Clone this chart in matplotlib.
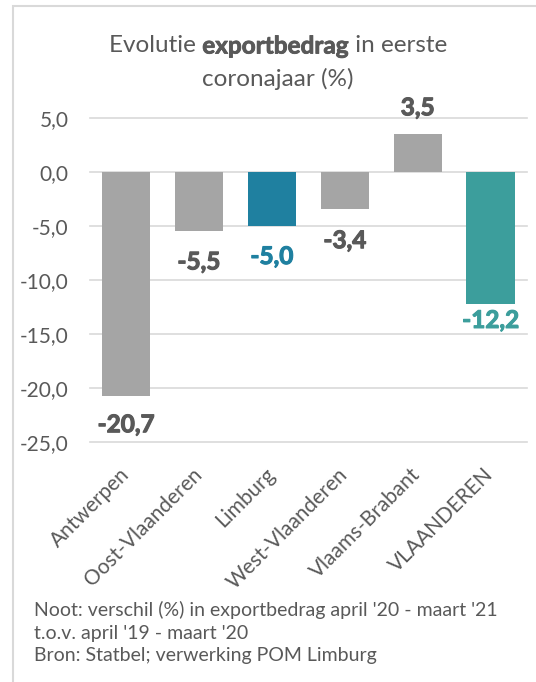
import matplotlib
matplotlib.use("Agg")
import matplotlib.pyplot as plt
import matplotlib.transforms as mtransforms
import matplotlib.patheffects as pe
from matplotlib import font_manager
from matplotlib.patches import Rectangle

# data
regions = ["Antwerpen", "Oost-Vlaanderen", "Limburg", "West-Vlaanderen",
           "Vlaams-Brabant", "VLAANDEREN"]
values = [-20.7, -5.5, -5.0, -3.4, 3.5, -12.2]
bar_colors = ["#a5a5a5", "#a5a5a5", "#1f80a0", "#a5a5a5", "#a5a5a5", "#3c9e9c"]
label_colors = ["#595959", "#595959", "#1f80a0", "#595959", "#595959", "#3c9e9c"]
label_offsets = [-21, -22, -22, -23, 19, -12]  # points, as in the original
y_ticks = [5, 0, -5, -10, -15, -20, -25]

title_parts = ["Evolutie ", "exportbedrag", " in eerste"]
title_line2 = "coronajaar (%)"
note_lines = [
    "Noot: verschil (%) in exportbedrag april '20 - maart '21",
    "t.o.v. april '19 - maart '20",
    "Bron: Statbel; verwerking POM Limburg",
]

FONT = "Lato"
TXT = "#595959"
plt.rcParams["font.family"] = FONT


def bold_file():
    # Lato may come without a bold cut; then take the nearest real bold
    for fam in [FONT, "Open Sans", "Noto Sans", "Liberation Sans"]:
        best = None
        for f in font_manager.fontManager.ttflist:
            w = f.weight
            if not isinstance(w, int):
                w = {"bold": 700, "semibold": 600, "demibold": 600,
                     "heavy": 800, "black": 900, "extra bold": 800}.get(str(w).lower(), 400)
            if f.name == fam and f.style == "normal" and 600 <= w <= 900:
                if best is None or abs(w - 750) < abs(best[0] - 750):
                    best = (w, f.fname)
        if best:
            return best[1]
    return None


BOLD = bold_file()


def bold(size):
    if BOLD:
        return font_manager.FontProperties(fname=BOLD, size=size)
    return font_manager.FontProperties(family=FONT, weight="bold", size=size)


def heavy(color, lw=0.8):
    # Calibri bold is heavier than the bold cut here, thicken a little
    return [pe.withStroke(linewidth=lw, foreground=color)]


fig = plt.figure(figsize=(5.36, 6.82), dpi=100)

# light frame around the chart
fig.patches.append(Rectangle((12.5 / 536, -0.1), 1.2, 1.1 - 6 / 682,
                             transform=fig.transFigure, fill=False,
                             edgecolor="#d9d9d9", linewidth=1.5))

ax = fig.add_axes([89.5 / 536, 1 - 442 / 682, 437.5 / 536, 324 / 682])
x = range(len(regions))
ax.bar(x, values, width=0.66, color=bar_colors, zorder=2)

lbl_font = bold(17.5)
for i, v in enumerate(values):
    ax.annotate(f"{v:.1f}".replace(".", ","), (i, v),
                xytext=(0, label_offsets[i]), textcoords="offset points",
                ha="center", va="center", fontproperties=lbl_font,
                color=label_colors[i], path_effects=heavy(label_colors[i]))

ax.set_xlim(-0.5, len(regions) - 0.5)
ax.set_ylim(-25, 5)
ax.set_yticks(y_ticks)
ax.set_yticklabels([f"{t:.1f}".replace(".", ",") for t in y_ticks],
                   fontsize=15, color=TXT)
ax.set_xticks(list(x))
ax.set_xticklabels(regions, rotation=45, ha="right", va="center",
                   rotation_mode="anchor", fontsize=15, color=TXT)
shift = mtransforms.ScaledTranslation(4 / 100, 0, fig.dpi_scale_trans)
for lbl in ax.get_xticklabels():
    lbl.set_transform(lbl.get_transform() + shift)
ax.tick_params(axis="both", length=0)
ax.tick_params(axis="y", pad=15)
ax.tick_params(axis="x", pad=21)
ax.grid(axis="y", color="#d9d9d9", linewidth=1.2, zorder=0)
for s in ax.spines.values():
    s.set_visible(False)
for gl in ax.get_ygridlines():
    gl.set_clip_on(False)

# title line 1 with the bold word, laid out piece by piece
renderer = fig.canvas.get_renderer()
pieces = []
for j, part in enumerate(title_parts):
    if j == 1:
        kw = {"fontproperties": bold(17.5), "path_effects": heavy(TXT, 0.6)}
    else:
        kw = {"fontsize": 17.5}
    pieces.append(fig.text(0, 1 - 46 / 682, part, ha="left", va="center",
                           color=TXT, **kw))
widths = [p.get_window_extent(renderer).width for p in pieces]
x0 = 278 - sum(widths) / 2
for p, w in zip(pieces, widths):
    p.set_x(x0 / 536)
    x0 += w
fig.text(278 / 536, 1 - 79 / 682, title_line2,
         ha="center", va="center", fontsize=17.5, color=TXT)

for k, line in enumerate(note_lines):
    fig.text(34 / 536, 1 - (610 + 23 * k) / 682, line, ha="left", va="center",
             fontsize=14, color=TXT)

fig.savefig("out.png", dpi=100)
